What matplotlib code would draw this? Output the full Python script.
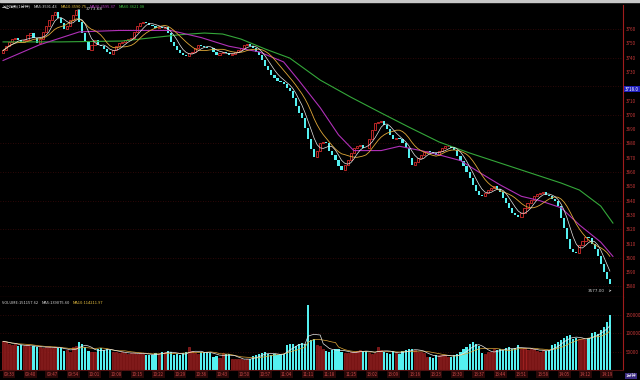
import numpy as np
import pandas as pd
import matplotlib
matplotlib.use('Agg')
import matplotlib.pyplot as plt
from matplotlib.patches import Rectangle
from matplotlib.transforms import blended_transform_factory

plt.rcParams['font.family'] = ['Noto Sans CJK SC', 'DejaVu Sans']

# closes of each 1-min bar
closes = [
    3745, 3748, 3751, 3753, 3754, 3752, 3751, 3752, 3756, 3757,
    3754, 3750, 3753, 3758, 3762, 3766, 3770, 3772, 3768, 3764,
    3760, 3762, 3766, 3770, 3773, 3765, 3757, 3751, 3745, 3749,
    3752, 3749, 3748, 3746, 3744, 3742.5, 3745, 3748, 3750, 3751,
    3752, 3753, 3754, 3758, 3762, 3764, 3765, 3764.5, 3763, 3762,
    3761, 3761.5, 3760.5, 3761.5, 3757, 3751, 3748, 3745, 3743, 3741.5,
    3741, 3743, 3744, 3747, 3749, 3748, 3747.5, 3747, 3746.5, 3744,
    3742, 3743, 3744, 3743, 3742, 3742.5, 3744, 3745.5, 3747, 3749,
    3749.5, 3748, 3747, 3744, 3742, 3738, 3734, 3731, 3728, 3726,
    3724, 3723, 3721.5, 3719, 3717, 3712, 3706, 3701, 3698, 3691,
    3683, 3676, 3670.5, 3675, 3680, 3681, 3680, 3675, 3672, 3668.5,
    3664, 3661.5, 3665, 3668.5, 3673, 3677, 3678, 3679, 3677, 3676.5,
    3683, 3689.5, 3694, 3695, 3695.5, 3693, 3690, 3686, 3683, 3683.5,
    3683, 3680, 3676.5, 3670, 3665, 3667, 3670, 3672, 3674, 3674.5,
    3674, 3673, 3672, 3675, 3677, 3678, 3678.5, 3677, 3675.5, 3671,
    3668, 3664, 3660, 3656, 3651, 3647, 3644, 3643, 3645, 3647.5,
    3649, 3650, 3648, 3646, 3642, 3638, 3635, 3631.5, 3630, 3628.5,
    3631, 3635, 3638, 3640.5, 3643, 3644.5, 3645.5, 3646, 3644, 3643,
    3641, 3640, 3636, 3628, 3621, 3613, 3606, 3604, 3603.5, 3609,
    3612, 3614.5, 3614, 3610, 3606, 3601, 3596, 3590, 3585, 3581.5,
]
first_open = 3743.0

# volume per bar, in thousands
vol_k = [
    78, 76, 72, 68, 70, 66, 68, 65, 67, 64,
    66, 62, 63, 61, 62, 64, 60, 62, 59, 60,
    52, 54, 50, 62, 66, 76, 70, 64, 52, 49,
    48, 57, 59, 55, 57, 54, 50, 49, 47, 49,
    46, 44, 46, 47, 45, 46, 44, 41, 42, 40,
    46, 45, 50, 48, 52, 49, 41, 43, 40, 46,
    48, 63, 52, 47, 45, 49, 48, 50, 47, 35,
    37, 34, 46, 44, 45, 30, 31, 29, 30, 28,
    31, 30, 38, 41, 44, 47, 49, 43, 42, 44,
    41, 43, 45, 68, 72, 70, 66, 72, 74, 70,
    178, 82, 84, 68, 66, 58, 52, 50, 55, 58,
    56, 48, 47, 46, 49, 48, 52, 54, 51, 53,
    46, 45, 47, 62, 55, 50, 47, 44, 52, 46,
    44, 52, 55, 58, 57, 55, 50, 49, 47, 35,
    36, 34, 41, 40, 42, 41, 35, 36, 40, 45,
    50, 56, 62, 70, 76, 72, 66, 47, 45, 48,
    50, 56, 54, 58, 55, 60, 62, 58, 60, 68,
    57, 60, 55, 58, 56, 52, 50, 54, 52, 55,
    68, 72, 76, 82, 88, 92, 96, 85, 88, 84,
    85, 82, 88, 100, 104, 98, 110, 117, 130, 150,
]

# slow averages (they need earlier data, so read them off the picture)
ma30_idx = [0, 12, 25, 38, 55, 65, 74, 84, 92, 97, 104, 110, 115, 124,
            130, 137, 143, 150, 156, 163, 170, 176, 183, 189, 196, 200]
ma30_val = [3738, 3749, 3758, 3759, 3759, 3754, 3748, 3744, 3737, 3724,
            3705, 3686, 3675, 3675, 3678, 3675, 3672, 3668, 3660, 3651,
            3643, 3640, 3635, 3623, 3611, 3601]
ma60_idx = [0, 19, 39, 48, 58, 66, 72, 78, 86, 94, 104, 114, 124, 133,
            143, 153, 163, 173, 183, 189, 196, 200]
ma60_val = [3751, 3751, 3751.6, 3753.7, 3756, 3757.2, 3756.5, 3753, 3746,
            3739.7, 3724.3, 3712.4, 3701.3, 3691.5, 3681, 3673.3, 3666.3,
            3659.3, 3652.3, 3647.4, 3636.2, 3624.3]

hi_idx, hi_val = 24, 3773.68
lo_val = 3577.00
ref_val = 3718.0

# 3720 sits under the highlighted reference price
price_ticks = [3580, 3590, 3600, 3610, 3620, 3630, 3640, 3650, 3660, 3670,
               3680, 3690, 3700, 3710, 3730, 3740, 3750, 3760]
grid_levels = [3580, 3600, 3620, 3640, 3660, 3680, 3700, 3720, 3740, 3760]
vol_ticks = [50000, 100000, 150000]
vol_tick_labels = ['50000', '100000', '150000']
time_pos = [2, 9, 16, 23, 30, 37, 44, 51, 58, 65, 72, 79, 86, 93, 100,
            107, 114, 121, 128, 135, 142, 149, 156, 163, 170, 177, 184, 191, 198]
time_labels = ['09:33', '09:40', '09:47', '09:54', '10:01', '10:08', '10:15',
               '10:22', '10:29', '10:36', '10:43', '10:50', '10:57', '11:04',
               '11:11', '11:18', '11:25', '13:02', '13:09', '13:16', '13:23',
               '13:30', '13:37', '13:44', '13:51', '13:58', '14:05', '14:12',
               '14:19']

price_title = [('上证指数(1分钟)', '#d8d8d8'), ('MA5:3591.43', '#d8d8d8'),
               ('MA10:3590.75', '#e8c040'), ('MA30:3595.37', '#c040c8'),
               ('MA60:3621.08', '#40c040')]
vol_title = [('VOLUME:151157.62', '#d8d8d8'), ('MA5:139075.60', '#d8d8d8'),
             ('MA10:114211.97', '#e8c040')]

RED = '#a01c1c'
UP = '#ff3434'
DOWN = '#54f0f0'

closes = np.array(closes, dtype=float)
vols = np.array(vol_k, dtype=float) * 1000
n = len(closes)
x = np.arange(n)
opens = np.r_[first_open, closes[:-1]]
up = closes >= opens
lo = np.minimum(opens, closes)
h = np.maximum(np.abs(closes - opens), 0.5)

ma5 = pd.Series(closes).rolling(5, min_periods=1).mean()
ma10 = pd.Series(closes).rolling(10, min_periods=1).mean()
vma5 = pd.Series(vols).rolling(5, min_periods=1).mean()
vma10 = pd.Series(vols).rolling(10, min_periods=1).mean()

fig = plt.figure(figsize=(6.4, 3.8), dpi=100, facecolor='black')
ax = fig.add_axes([0, 83 / 380, 623 / 640, 292 / 380], facecolor='black')
axv = fig.add_axes([0, 10 / 380, 623 / 640, 73 / 380], facecolor='black', sharex=ax)

# price panel
for g in grid_levels:
    ax.axhline(g, color='#3c0a0a', lw=0.6, ls=(0, (1, 2)), zorder=0)
ax.bar(x[up], h[up], bottom=lo[up], width=0.7, facecolor='black',
       edgecolor=UP, linewidth=0.5, zorder=2)
ax.bar(x[~up], h[~up], bottom=lo[~up], width=0.7, color=DOWN,
       linewidth=0, zorder=2)
ax.plot(ma60_idx, ma60_val, color='#34a83a', lw=0.8, zorder=3)
ax.plot(ma30_idx, ma30_val, color='#b030b8', lw=0.8, zorder=3)
ax.plot(x, ma10, color='#e0a838', lw=0.6, zorder=3)
ax.plot(x, ma5, color='#e8e8e8', lw=0.5, zorder=3)

ax.annotate('%.2f' % hi_val, xy=(hi_idx + 0.5, hi_val), xytext=(hi_idx + 3, hi_val),
            color='#d0d0d0', fontsize=3.0, va='center', family='DejaVu Sans',
            arrowprops=dict(arrowstyle='-', color='#d0d0d0', lw=0.4))
ax.annotate('%.2f' % lo_val, xy=(n - 0.5, lo_val), xytext=(n - 8.2, lo_val),
            color='#d0d0d0', fontsize=3.0, va='center', ha='left', family='DejaVu Sans',
            arrowprops=dict(arrowstyle='->', color='#d0d0d0', lw=0.4))

ax.set_xlim(-1, 203.3)
ax.set_ylim(3572.6, 3776.8)
ax.yaxis.tick_right()
ax.set_yticks(price_ticks)
ax.set_yticklabels([str(t) for t in price_ticks])
ax.tick_params(axis='y', colors='#c83838', labelsize=3.3, length=0, pad=2)
ax.tick_params(axis='x', bottom=False, labelbottom=False)
for s in ['top', 'left']:
    ax.spines[s].set_visible(False)
ax.spines['right'].set_color(RED)
ax.spines['right'].set_linewidth(0.8)
ax.spines['bottom'].set_color(RED)
ax.spines['bottom'].set_linewidth(0.8)

tr = blended_transform_factory(ax.transAxes, ax.transData)
ax.text(1.003, ref_val, '%.1f' % ref_val, transform=tr, fontsize=3.3,
        color='white', va='center', ha='left', clip_on=False, zorder=5,
        bbox=dict(facecolor='#2020c0', edgecolor='none', pad=0.6))

# volume panel
for g in vol_ticks:
    axv.axhline(g, color='#3c0a0a', lw=0.6, ls=(0, (1, 2)), zorder=0)
axv.bar(x[up], vols[up], width=0.7, facecolor='#781414', edgecolor='#b82828',
        linewidth=0.4, zorder=2)
axv.bar(x[~up], vols[~up], width=0.7, color=DOWN, linewidth=0, zorder=2)
axv.plot(x, vma10, color='#e0a838', lw=0.5, zorder=3)
axv.plot(x, vma5, color='#e8e8e8', lw=0.5, zorder=3)
axv.set_ylim(0, 199400)
axv.yaxis.tick_right()
axv.set_yticks(vol_ticks)
axv.set_yticklabels(vol_tick_labels)
axv.tick_params(axis='y', colors='#c83838', labelsize=3.3, length=0, pad=2)
axv.set_xticks(time_pos)
axv.set_xticklabels(time_labels)
axv.tick_params(axis='x', colors='#c84848', labelsize=3.2, length=0, pad=1.5)
for lab in axv.get_xticklabels():
    lab.set_bbox(dict(facecolor='#2a0808', edgecolor='none', pad=0.6))
axv.spines['top'].set_visible(False)
axv.spines['left'].set_visible(False)
axv.spines['right'].set_color(RED)
axv.spines['right'].set_linewidth(0.8)
axv.spines['bottom'].set_color('#501010')

# header texts, laid out one after the other
renderer = fig.canvas.get_renderer()


def header(parts, ypix):
    xp = 2
    for txt, col in parts:
        t = fig.text(xp / 640, 1 - ypix / 380, txt, color=col, fontsize=2.9, va='center')
        xp = t.get_window_extent(renderer).x1 + 3


header(price_title, 7)
header(vol_title, 303)

fig.text(626 / 640, 1 - 376 / 380, '1分钟', color='white', fontsize=3.0, va='center',
         bbox=dict(facecolor='#3a2a80', edgecolor='none', pad=0.5))
fig.add_artist(Rectangle((0, 1 - 2 / 380), 1, 2 / 380, color='#c8c8c8',
                         transform=fig.transFigure))

fig.savefig('out.png', dpi=100, facecolor='black')
